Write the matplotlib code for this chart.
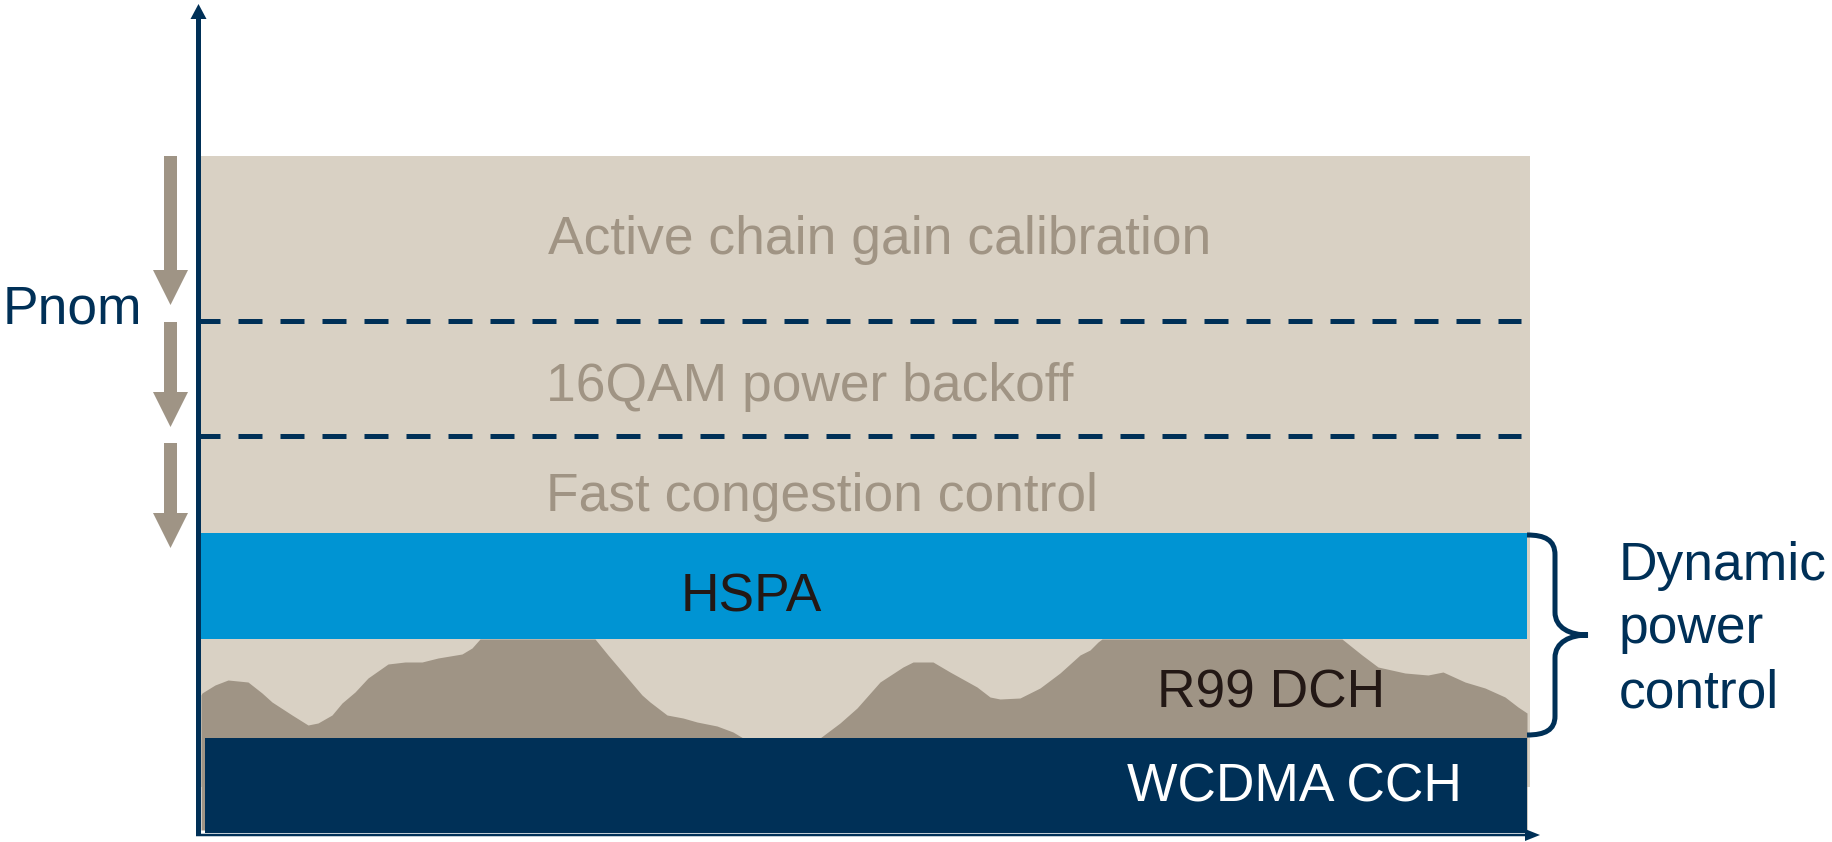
import matplotlib
matplotlib.use("Agg")
import matplotlib.pyplot as plt
from matplotlib.path import Path
from matplotlib.patches import PathPatch, Rectangle
import numpy as np

plt.rcParams['font.family'] = ['Liberation Sans', 'DejaVu Sans']

# ---- colours ----
NAVY = '#003057'
BLUE = '#0094D3'
BEIGE = '#D9D1C4'
GREY = '#9F9485'
TEXT_GREY = '#A09484'
TEXT_DARK = '#231815'

# ---- layout data (pixel units, y measured from top) ----
beige_box = (200, 156, 1530, 787)          # x0, y0, x1, y1
hspa_box = (196, 533, 1527, 639)
wcdma_box = (205, 738, 1527, 833)
r99_bottom = 830

# R99 DCH load profile (x, y-top)
r99_x = [201, 202, 215, 228, 248, 262, 272, 292, 308, 318, 332, 342, 355, 368, 388,
         405, 422, 438, 462, 472, 480, 595, 608, 625, 642, 650, 667, 683, 697, 717,
         733, 743, 820, 840, 857, 880, 903, 913, 933, 950, 977, 990, 1000, 1020,
         1040, 1060, 1080, 1090, 1098, 1102, 1342, 1362, 1378, 1405, 1428, 1443,
         1465, 1485, 1505, 1518, 1527]
r99_y = [695, 693, 685, 680, 682, 693, 702, 715, 725, 723, 715, 703, 692, 678, 664,
         662, 662, 658, 654, 648, 639, 639, 655, 675, 695, 702, 715, 718, 722, 726,
         732, 738, 738, 723, 708, 682, 667, 662, 662, 672, 687, 697, 699, 698,
         688, 673, 655, 650, 642, 639, 639, 655, 667, 673, 675, 672,
         682, 688, 697, 707, 713]

# dashed threshold levels
dash_levels = [321, 436]
dash_x = (196, 1521)

# grey down-arrows: (top, tip)
arrow_spans = [(156, 305), (322, 427), (443, 548)]
arrow_x = 170.5

# labels: (text, x, baseline y, colour)
labels = [
    ("Active chain gain calibration", 548, 254, TEXT_GREY),
    ("16QAM power backoff", 546, 401, TEXT_GREY),
    ("Fast congestion control", 546, 511, TEXT_GREY),
    ("HSPA", 681, 611, TEXT_DARK),
    ("R99 DCH", 1157, 708, TEXT_DARK),
    ("WCDMA CCH", 1127, 802, 'white'),
    ("Pnom", 3, 323, NAVY),
]
side_label_lines = ["Dynamic", "power", "control"]
side_label_baselines = [580, 643, 707]
side_label_x = 1619

FS = 38.4

fig = plt.figure(figsize=(18.32, 8.42), dpi=100)
ax = fig.add_axes([0, 0, 1, 1])
ax.set_xlim(0, 1832)
ax.set_ylim(842, 0)
ax.axis('off')

def rect(box, color, z):
    x0, y0, x1, y1 = box
    ax.add_patch(Rectangle((x0, y0), x1 - x0, y1 - y0, facecolor=color,
                           edgecolor='none', zorder=z))

rect(beige_box, BEIGE, 1)
ax.fill_between(r99_x, r99_y, r99_bottom, color=GREY, linewidth=0, zorder=2)
rect(hspa_box, BLUE, 3)
rect(wcdma_box, NAVY, 3)

for lvl in dash_levels:
    ax.plot(dash_x, [lvl, lvl], color=NAVY, lw=3.6, linestyle=(0, (4.8, 3.6)),
            solid_capstyle='butt', dash_capstyle='butt', zorder=4)

# axes arrows
ax.arrow(198.5, 836, 0, 4 - 836, width=5, head_width=16, head_length=15,
         length_includes_head=True, color=NAVY, linewidth=0, zorder=5)
ax.arrow(196, 835, 1540 - 196, 0, width=2.5, head_width=12, head_length=15,
         length_includes_head=True, color=NAVY, linewidth=0, zorder=5)

# grey arrows
for top, tip in arrow_spans:
    ax.arrow(arrow_x, top, 0, tip - top, width=13, head_width=35, head_length=35,
             length_includes_head=True, color=GREY, linewidth=0, zorder=4)

# brace
verts = [(1527, 535),
         (1545, 535), (1555, 540), (1555, 555),
         (1555, 612),
         (1555, 628), (1570, 635), (1588, 635),
         (1570, 635), (1555, 642), (1555, 658),
         (1555, 716),
         (1555, 730), (1545, 735), (1527, 735)]
codes = [Path.MOVETO,
         Path.CURVE4, Path.CURVE4, Path.CURVE4,
         Path.LINETO,
         Path.CURVE4, Path.CURVE4, Path.CURVE4,
         Path.CURVE4, Path.CURVE4, Path.CURVE4,
         Path.LINETO,
         Path.CURVE4, Path.CURVE4, Path.CURVE4]
ax.add_patch(PathPatch(Path(verts, codes), facecolor='none', edgecolor=NAVY,
                       lw=3.6, capstyle='butt', zorder=5))

for txt, x, y, c in labels:
    ax.text(x, y, txt, fontsize=FS, color=c, ha='left', va='baseline', zorder=6)

for txt, y in zip(side_label_lines, side_label_baselines):
    ax.text(side_label_x, y, txt, fontsize=FS, color=NAVY, ha='left',
            va='baseline', zorder=6)

fig.savefig('out.png', dpi=100)
